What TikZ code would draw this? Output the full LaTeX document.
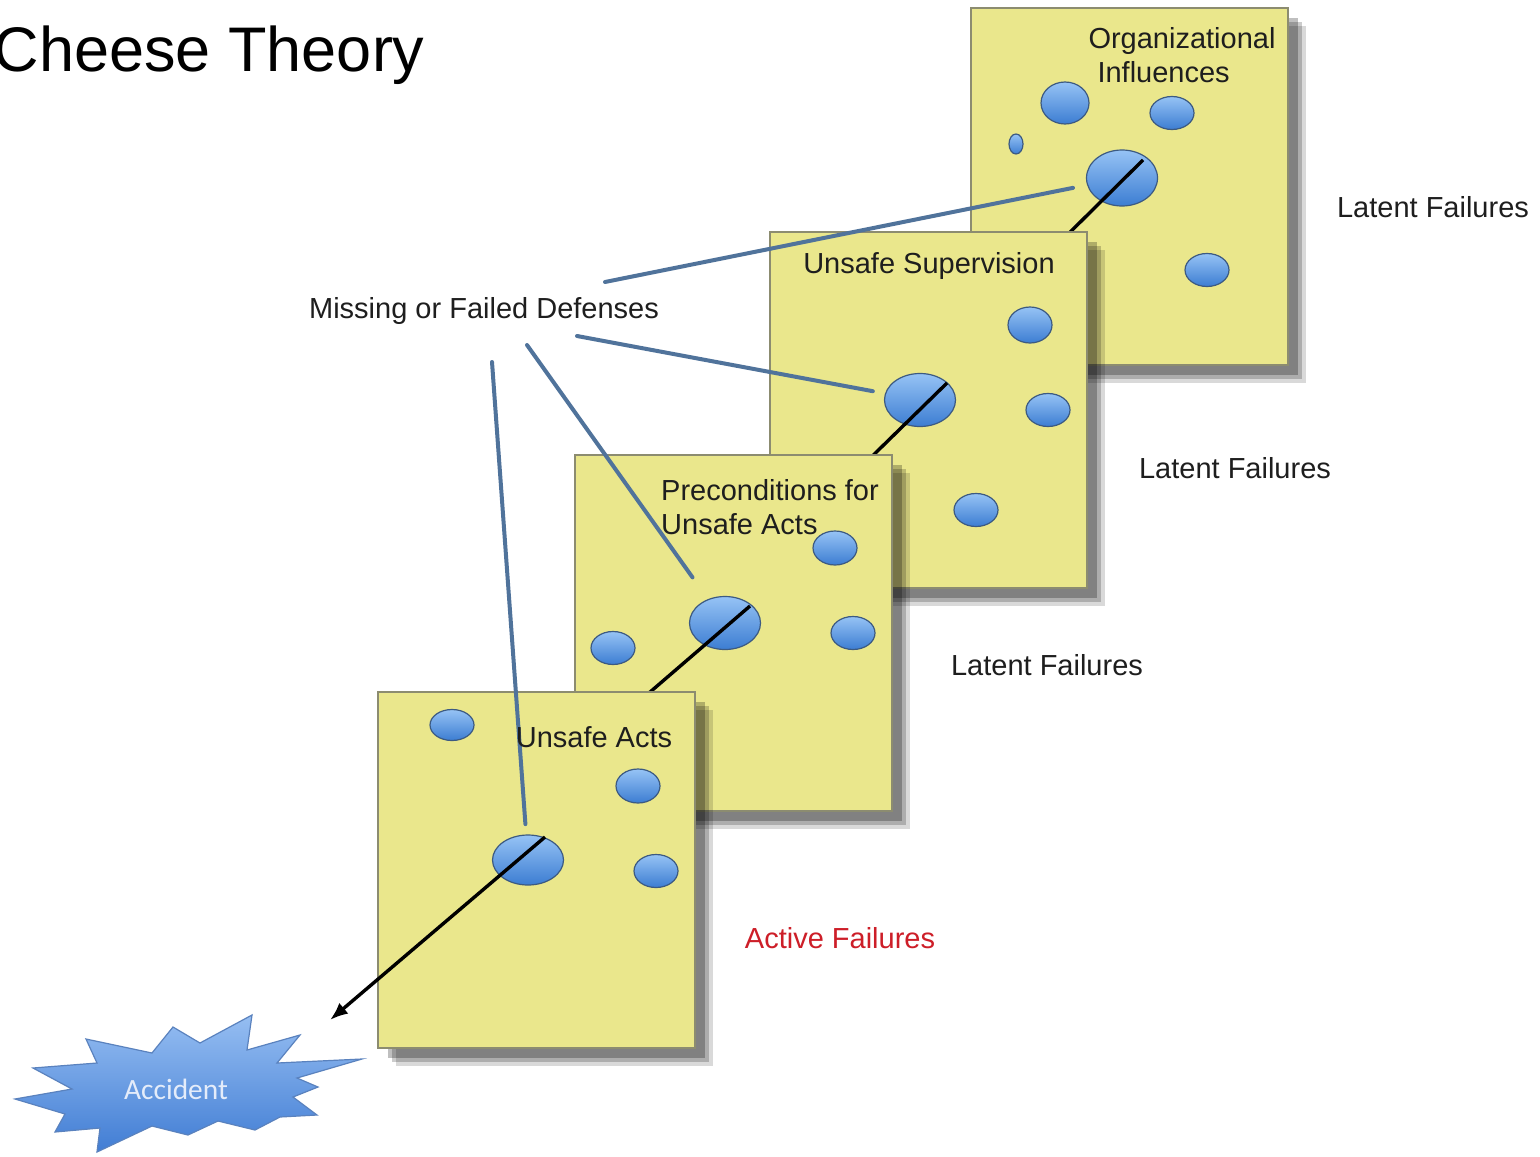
\documentclass[tikz,border=0pt]{standalone}
\usepackage{fontspec}
\setmainfont{Liberation Sans}
\newfontfamily\accfont{Carlito}
\usetikzlibrary{shapes.geometric,shadows,arrows.meta,calc}
\definecolor{cheese}{RGB}{234,231,140}
\definecolor{cheeseedge}{RGB}{140,140,112}
\definecolor{holetop}{RGB}{150,195,245}
\definecolor{holebot}{RGB}{60,125,210}
\definecolor{holeedge}{RGB}{60,90,130}
\definecolor{ptrblue}{RGB}{80,115,155}
\definecolor{actred}{RGB}{205,30,40}
\definecolor{acctop}{RGB}{150,190,242}
\definecolor{accbot}{RGB}{65,125,212}
\definecolor{accedge}{RGB}{90,130,190}
\definecolor{acctxt}{RGB}{228,236,250}
\definecolor{txt}{RGB}{30,30,30}
\begin{document}
\begin{tikzpicture}[x=0.5pt,y=-0.5pt,
  panel/.style={draw=cheeseedge, line width=1pt, fill=cheese,
    minimum width=158.5pt, minimum height=178pt, inner sep=0pt,
    general shadow={shadow xshift=9pt, shadow yshift=-9pt, fill=black, opacity=.15},
    general shadow={shadow xshift=7pt, shadow yshift=-7pt, fill=black, opacity=.2},
    general shadow={shadow xshift=5pt, shadow yshift=-5pt, fill=black, opacity=.25}},
  hole/.style={ellipse, draw=holeedge, line width=0.6pt, top color=holetop,
    bottom color=holebot, inner sep=0pt, minimum width=22pt, minimum height=16.5pt},
  bighole/.style={hole, minimum width=35.5pt, minimum height=26.5pt},
  ptr/.style={draw=ptrblue, line width=2pt, line cap=round},
  ray/.style={draw=black, line width=1.7pt},
  lbl/.style={font=\fontsize{14.5}{17}\selectfont, text=txt, inner sep=0pt},
]
\useasboundingbox (0,0) rectangle (1540,1156);
\fill[white] (0,0) rectangle (1540,1156);

% ---- Panel 1: Organizational Influences
\node[panel] (p1) at (1129,186.5) {};
\node[hole, minimum width=24pt, minimum height=21pt] (h1a) at (1065,103) {};
\node[hole] (h1b) at (1172,113) {};
\node[hole, minimum width=7pt, minimum height=10pt] (h1c) at (1016,144) {};
\node[bighole, minimum height=28pt] (h1big) at (1122,178) {};
\node[hole] (h1d) at (1207,270) {};
\coordinate (r1) at (1050,252);
\draw[ray] ([shift={(21,-18)}]h1big.center) -- (r1);

% ---- Panel 2: Unsafe Supervision
\node[panel] (p2) at (928.5,409.5) {};
\node[hole, minimum height=18pt] (h2a) at (1030,325) {};
\node[bighole] (h2big) at (920,400) {};
\node[hole] (h2b) at (1048,410) {};
\node[hole] (h2c) at (976,510) {};
\coordinate (r2) at (855,473);
\draw[ray] ([shift={(27,-17)}]h2big.center) -- (r2);

% ---- Panel 3: Preconditions
\node[panel] (p3) at (733,632.5) {};
\node[hole, minimum height=17pt] (h3a) at (835,548) {};
\node[bighole] (h3big) at (725,623) {};
\node[hole] (h3b) at (613,648) {};
\node[hole] (h3c) at (853,633) {};
\coordinate (r3) at (635,705);
\draw[ray] ([shift={(25,-17)}]h3big.center) -- (r3);

% ---- Panel 4: Unsafe Acts
\node[panel] (p4) at (536,870) {};
\node[hole, minimum height=15.5pt] (h4a) at (452,725) {};
\node[hole, minimum height=17pt] (h4b) at (638,786) {};
\node[bighole, minimum height=25pt] (h4big) at (528,860) {};
\node[hole] (h4c) at (656,871) {};
\coordinate (r4) at (330,1020);
\draw[ray, -{Latex[length=9pt,width=7pt]}] ([shift={(17,-23)}]h4big.center) -- (r4);

% ---- Accident burst
\draw[draw=accedge, line width=0.6pt, top color=acctop, bottom color=accbot, line join=miter]
  (15,1099) -- (72,1089) -- (33,1068) -- (97,1063) -- (86,1039) -- (152,1053)
  -- (173,1027) -- (200,1043) -- (252,1015) -- (247,1050) -- (300,1035)
  -- (277,1063) -- (362,1059) -- (297,1078) -- (318,1087) -- (293,1097)
  -- (317,1115) -- (280,1117) -- (255,1130) -- (218,1121) -- (188,1135)
  -- (152,1126) -- (97,1152) -- (100,1128) -- (55,1132) -- (65,1114) -- cycle;
\node[font=\accfont\fontsize{14.7}{17}\selectfont, text=acctxt, inner sep=0pt] (acc) at (176,1089) {Accident};

% ---- Pointers from "Missing or Failed Defenses"
\node[lbl] (mfd) at (484,311) {Missing or Failed Defenses};
\coordinate (m1) at (605,282);
\coordinate (m2) at (577,336);
\coordinate (m3) at (527,345);
\coordinate (m4) at (492,362);
\draw[ptr, shorten >=25pt] (m1) -- (h1big.center);
\draw[ptr, shorten >=24pt] (m2) -- (h2big.center);
\draw[ptr, shorten >=28pt] (m3) -- (h3big.center);
\draw[ptr, shorten >=18pt] (m4) -- (h4big.center);

% ---- Labels
\node[font=\fontsize{31.5}{36}\selectfont, anchor=base east, inner sep=0pt] (title) at (425,72) {Cheese Theory};
\node[lbl, align=left] (l1) at (1182,55) {Organizational\\\hspace*{4.5pt}Influences};
\node[lbl] (l2) at (929,266) {Unsafe Supervision};
\node[lbl, align=left] (l3) at (770,507) {Preconditions for\\Unsafe Acts};
\node[lbl] (l4) at (594,737) {Unsafe Acts};
\node[lbl] (lf1) at (1433,207) {Latent Failures};
\node[lbl] (lf2) at (1235,468) {Latent Failures};
\node[lbl] (lf3) at (1047,665) {Latent Failures};
\node[lbl, text=actred] (af) at (840,938) {Active Failures};
\end{tikzpicture}
\end{document}
